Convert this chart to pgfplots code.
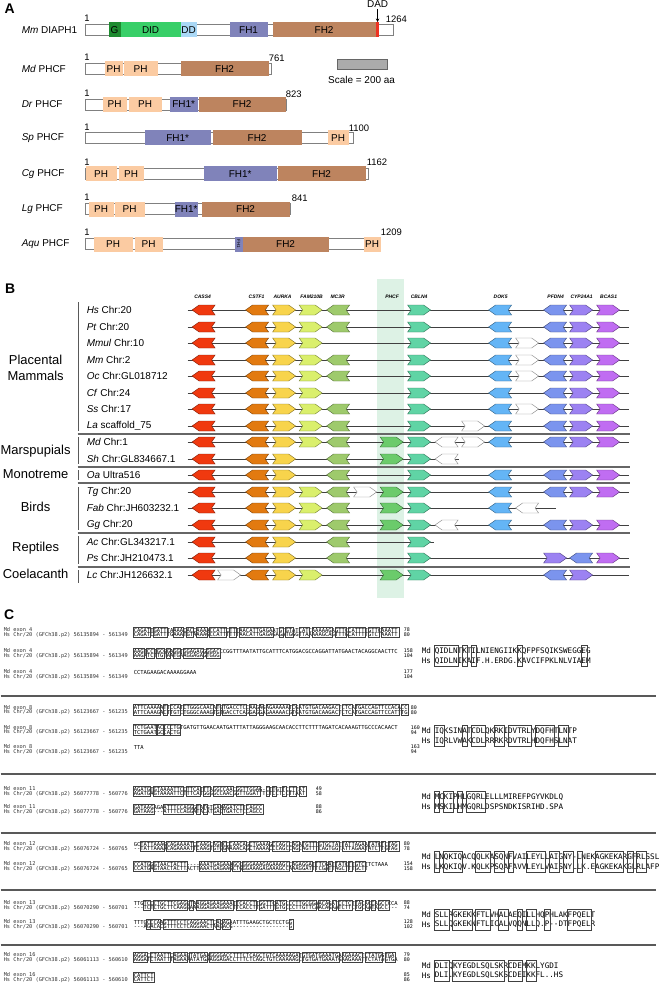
\documentclass[border=0pt]{standalone}
\usepackage{pgfplots}
\pgfplotsset{compat=1.18}
\usepackage{fontspec}
\setmainfont{Liberation Sans}
\newfontfamily\monof{DejaVu Sans Mono}
\usetikzlibrary{arrows.meta}
\definecolor{cG}{HTML}{1E8B30}
\definecolor{cDID}{HTML}{38CF68}
\definecolor{cDD}{HTML}{AAD8F6}
\definecolor{cFH1}{HTML}{8083BA}
\definecolor{cFH2}{HTML}{BD845F}
\definecolor{cPH}{HTML}{FBCBA2}
\definecolor{cDAD}{HTML}{EE3322}
\definecolor{cCASS}{HTML}{F0390F}
\definecolor{cCSTF}{HTML}{E27A10}
\definecolor{cAUR}{HTML}{F8D44C}
\definecolor{cFAM}{HTML}{DAEF6C}
\definecolor{cMC}{HTML}{9ECA6C}
\definecolor{cPHCF}{HTML}{6BCB6B}
\definecolor{cCBLN}{HTML}{60D4A5}
\definecolor{cDOK}{HTML}{64B5F6}
\definecolor{cPFD}{HTML}{7B94EE}
\definecolor{cCYP}{HTML}{9C82F2}
\definecolor{cBCAS}{HTML}{C06DF2}
\definecolor{cHL}{HTML}{DDF2E5}
\newcommand{\gp}{\mbox{-}}
% panel A
\newcommand{\bb}[3]{\pgfmathsetmacro\ya{#3-5.5}\pgfmathsetmacro\yb{#3+5.5}%
\addplot[fill=white, draw=black!50, line width=0.6pt] coordinates {(#1,\ya) (#2,\ya) (#2,\yb) (#1,\yb)} --cycle;}
\newcommand{\dom}[5]{\pgfmathsetmacro\ya{#3-7.5}\pgfmathsetmacro\yb{#3+7.5}%
\addplot[fill=#4, draw=none] coordinates {(#1,\ya) (#2,\ya) (#2,\yb) (#1,\yb)} --cycle;
\path (axis cs:#1,#3) -- (axis cs:#2,#3) node[midway, inner sep=0, font=\fontsize{10}{12}\selectfont] {#5};}
\newcommand{\plab}[3]{\node[anchor=west, inner sep=0, font=\fontsize{10}{12}\selectfont] at (axis cs:21,#1) {\textit{#2} #3};}
\newcommand{\num}[3]{\node[anchor=west, inner sep=0, font=\fontsize{9.5}{11}\selectfont] at (axis cs:#1,#2) {#3};}
% panel B
\newcommand{\gL}[3]{\pgfmathsetmacro\xa{#1}\pgfmathsetmacro\xb{#1+7}\pgfmathsetmacro\xc{#1+23}\pgfmathsetmacro\xd{#1+19.5}\pgfmathsetmacro\ya{#2-5}\pgfmathsetmacro\yb{#2+5}%
\addplot[fill=#3, draw=#3!55!black, line width=0.45pt] coordinates {(\xa,#2) (\xb,\ya) (\xc,\ya) (\xd,#2) (\xc,\yb) (\xb,\yb)} --cycle;}
\newcommand{\gR}[3]{\pgfmathsetmacro\xa{#1}\pgfmathsetmacro\xe{#1+16}\pgfmathsetmacro\xc{#1+23}\pgfmathsetmacro\xn{#1+3.5}\pgfmathsetmacro\ya{#2-5}\pgfmathsetmacro\yb{#2+5}%
\addplot[fill=#3, draw=#3!55!black, line width=0.45pt] coordinates {(\xa,\ya) (\xe,\ya) (\xc,#2) (\xe,\yb) (\xa,\yb) (\xn,#2)} --cycle;}
\newcommand{\chr}[3]{\addplot[draw=black!75, line width=0.9pt] coordinates {(#1,#3) (#2,#3)};}
\newcommand{\Lset}[1]{\gL{191.5}{#1}{cCASS}\gL{245}{#1}{cCSTF}\gR{272}{#1}{cAUR}}
\newcommand{\Rset}[1]{\gL{488}{#1}{cDOK}\gL{543}{#1}{cPFD}\gR{569}{#1}{cCYP}\gR{596}{#1}{cBCAS}}
\newcommand{\rl}[3]{\node[anchor=west, inner sep=0, font=\fontsize{10}{12}\selectfont] at (axis cs:86,#1) {\textit{#2} #3};}
\newcommand{\gh}[2]{\node[inner sep=0, font=\bfseries\itshape\fontsize{5}{6}\selectfont] at (axis cs:#1,297) {#2};}
\newcommand{\grp}[2]{\node[inner sep=0, font=\fontsize{13}{15}\selectfont] at (axis cs:35,#1) {#2};}
\newcommand{\vbar}[2]{\addplot[draw=black!65, line width=1.1pt] coordinates {(78,#1) (78,#2)};}
\newcommand{\hsep}[1]{\addplot[draw=black!60, line width=1.6pt] coordinates {(77,#1) (629,#1)};}
% panel C
\newcommand{\sq}[3]{\node[anchor=west, inner sep=0, font=\monof\fontsize{5.5}{6}\selectfont] at (axis cs:#1,#2) {#3};}
\newcommand{\lb}[2]{\node[anchor=west, inner sep=0, font=\monof\fontsize{5.3}{6}\selectfont, text=black!80] at (axis cs:3,#1) {#2};}
\newcommand{\nm}[3]{\node[anchor=west, inner sep=0, font=\monof\fontsize{5}{6}\selectfont] at (axis cs:#1,#2) {#3};}
\newcommand{\pair}[9]{\lb{#1}{Md exon #3}\lb{#2}{Hs Chr/20 (GFCh38.p2) #4}\sq{133}{#1}{#5}\sq{133}{#2}{#6}\nm{#9}{#1}{#7}\nm{#9}{#2}{#8}}
\newcommand{\prot}[4]{\node[anchor=west, inner sep=0, font=\monof\fontsize{7.64}{9}\selectfont] at (axis cs:421,#1) {Md};
\node[anchor=west, inner sep=0, font=\monof\fontsize{7.64}{9}\selectfont] at (axis cs:421,#2) {Hs};
\node[anchor=west, inner sep=0, font=\monof\fontsize{7.64}{9}\selectfont] at (axis cs:434,#1) {#3};
\node[anchor=west, inner sep=0, font=\monof\fontsize{7.64}{9}\selectfont] at (axis cs:434,#2) {#4};}
\newcommand{\bx}[3]{\pgfmathsetmacro\xa{133+3.31*#1-0.3}\pgfmathsetmacro\xb{133+3.31*#2+0.3}\pgfmathsetmacro\ya{#3-2.9}\pgfmathsetmacro\yb{#3+7.6}%
\addplot[draw=black!75, line width=0.35pt] coordinates {(\xa,\ya) (\xb,\ya) (\xb,\yb) (\xa,\yb)} --cycle;}
\newcommand{\pbx}[3]{\pgfmathsetmacro\xa{434+4.6*#1-0.4}\pgfmathsetmacro\xb{434+4.6*#2+0.4}\pgfmathsetmacro\ya{#3-5.5}\pgfmathsetmacro\yb{#3+15}%
\addplot[draw=black!75, line width=0.4pt] coordinates {(\xa,\ya) (\xb,\ya) (\xb,\yb) (\xa,\yb)} --cycle;}
\newcommand{\csep}[1]{\addplot[draw=black!65, line width=1.2pt] coordinates {(0,#1) (655,#1)};}
\begin{document}
\begin{tikzpicture}
\begin{axis}[scale only axis, width=660bp, height=997bp, xmin=0, xmax=660, ymin=0, ymax=997, y dir=reverse, hide axis, clip=false]
\addplot[draw=none] coordinates {(0,0) (660,997)};
% ===== Panel A =====
\node[inner sep=0, font=\bfseries\fontsize{14}{16}\selectfont] at (axis cs:9,9) {A};
\plab{30}{Mm}{DIAPH1}
\bb{85}{393}{30}
\dom{108}{120}{30}{cG}{G}
\dom{120}{180}{30}{cDID}{DID}
\dom{180}{196}{30}{cDD}{DD}
\dom{229}{267}{30}{cFH1}{FH1}
\dom{272}{375}{30}{cFH2}{FH2}
\dom{375}{378}{30}{cDAD}{}
\num{83.5}{18.5}{1}
\num{385}{19}{1264}
\node[inner sep=0, font=\fontsize{10}{12}\selectfont] at (axis cs:377,4.5) {DAD};
\addplot[-{Stealth[length=3.5pt,width=3.5pt]}, line width=0.9pt] coordinates {(377,9.5) (377,22)};
\plab{69}{Md}{PHCF}
\bb{85}{271}{69}
\dom{104}{122}{69}{cPH}{PH}
\dom{123}{157}{69}{cPH}{PH}
\dom{180}{268}{69}{cFH2}{FH2}
\num{83.5}{57.5}{1}
\num{268}{58}{761}
\addplot[fill=black!33, draw=black!60, line width=0.6pt] coordinates {(337,59) (387,59) (387,69) (337,69)} --cycle;
\node[inner sep=0, font=\fontsize{10}{12}\selectfont] at (axis cs:361,80) {Scale = 200 aa};
\plab{104.5}{Dr}{PHCF}
\bb{85}{286}{104.5}
\dom{102}{126}{104.5}{cPH}{PH}
\dom{128}{161}{104.5}{cPH}{PH}
\dom{169}{197}{104.5}{cFH1}{FH1*}
\dom{198}{285}{104.5}{cFH2}{FH2}
\num{83.5}{93}{1}
\num{285}{94}{823}
\plab{138}{Sp}{PHCF}
\bb{85}{353}{138}
\dom{144}{210}{138}{cFH1}{FH1*}
\dom{212}{301}{138}{cFH2}{FH2}
\dom{327}{348}{138}{cPH}{PH}
\num{83.5}{127}{1}
\num{348}{128}{1100}
\plab{174}{Cg}{PHCF}
\bb{85}{368}{174}
\dom{85}{116}{174}{cPH}{PH}
\dom{118}{143}{174}{cPH}{PH}
\dom{203}{276}{174}{cFH1}{FH1*}
\dom{277}{365}{174}{cFH2}{FH2}
\num{83.5}{162.5}{1}
\num{366}{162.5}{1162}
\plab{209}{Lg}{PHCF}
\bb{85}{290}{209}
\dom{88}{113}{209}{cPH}{PH}
\dom{114}{144}{209}{cPH}{PH}
\dom{174}{197}{209}{cFH1}{FH1*}
\dom{201}{289}{209}{cFH2}{FH2}
\num{83.5}{197.5}{1}
\num{291}{198}{841}
\plab{244}{Aqu}{PHCF}
\bb{85}{380}{244}
\dom{93}{132}{244}{cPH}{PH}
\dom{134}{162}{244}{cPH}{PH}
\dom{234}{242}{244}{cFH1}{}
\node[inner sep=0, rotate=-90, font=\fontsize{4.5}{5}\selectfont] at (axis cs:238,244) {FH1};
\dom{242}{328}{244}{cFH2}{FH2}
\dom{363}{380}{244}{cPH}{PH}
\num{83.5}{232.5}{1}
\num{380}{232.5}{1209}
% ===== Panel B =====
\node[inner sep=0, font=\bfseries\fontsize{14}{16}\selectfont] at (axis cs:9.5,288.5) {B};
\addplot[fill=cHL, draw=none] coordinates {(376,279) (403,279) (403,598) (376,598)} --cycle;
\gh{202}{CASS4}\gh{256}{CSTF1}\gh{282}{AURKA}\gh{311}{FAM210B}\gh{337}{MC3R}
\gh{391.5}{PHCF}\gh{418.5}{CBLN4}\gh{500}{DOK5}\gh{555}{PFDN4}\gh{581}{CYP24A1}\gh{608}{BCAS1}
\grp{360}{Placental}\grp{376}{Mammals}\grp{451}{Marspupials}\grp{474}{Monotreme}
\grp{507}{Birds}\grp{548}{Reptiles}\grp{574}{Coelacanth}
\vbar{302}{431}\vbar{437}{464}\vbar{470}{480}\vbar{487}{530}\vbar{536}{564}\vbar{570}{583}
\hsep{434}\hsep{467}\hsep{483}\hsep{533}\hsep{567}
\rl{310}{Hs}{Chr:20}\rl{327}{Pt}{Chr:20}\rl{343}{Mmul}{Chr:10}\rl{360}{Mm}{Chr:2}
\rl{376}{Oc}{Chr:GL018712}\rl{393}{Cf}{Chr:24}\rl{409}{Ss}{Chr:17}\rl{426}{La}{scaffold\_75}
\rl{442}{Md}{Chr:1}\rl{459}{Sh}{Chr:GL834667.1}\rl{475}{Oa}{Ultra516}\rl{492}{Tg}{Chr:20}
\rl{508}{Fab}{Chr:JH603232.1}\rl{525}{Gg}{Chr:20}\rl{542}{Ac}{Chr:GL343217.1}
\rl{558}{Ps}{Chr:JH210473.1}\rl{575}{Lc}{Chr:JH126632.1}
% Hs
\chr{187}{628}{310}\Lset{310}\gR{298.5}{310}{cFAM}\gL{326}{310}{cMC}\gR{407}{310}{cCBLN}\Rset{310}
% Pt
\chr{187}{628}{327}\Lset{327}\gR{298.5}{327}{cFAM}\gL{326}{327}{cMC}\gR{407}{327}{cCBLN}\Rset{327}
% Mmul
\chr{187}{628}{343}\Lset{343}\gR{298.5}{343}{cFAM}\gR{407}{343}{cCBLN}\Rset{343}\gR{515}{343}{white}
% Mm
\chr{187}{628}{360}\Lset{360}\gR{298.5}{360}{cFAM}\gL{326}{360}{cMC}\gR{407}{360}{cCBLN}\Rset{360}\gR{515}{360}{white}
% Oc
\chr{187}{628}{376}\Lset{376}\gR{298.5}{376}{cFAM}\gL{326}{376}{cMC}\gR{407}{376}{cCBLN}\Rset{376}\gR{515}{376}{white}
% Cf
\chr{187}{628}{393}\Lset{393}\gR{298.5}{393}{cFAM}\gR{407}{393}{cCBLN}\Rset{393}
% Ss
\chr{187}{628}{409}\Lset{409}\gR{298.5}{409}{cFAM}\gL{326}{409}{cMC}\gR{407}{409}{cCBLN}\Rset{409}\gR{515}{409}{white}
% La
\chr{187}{628}{426}\Lset{426}\gR{298.5}{426}{cFAM}\gL{326}{426}{cMC}\gR{407}{426}{cCBLN}\gR{461}{426}{white}\Rset{426}
% Md
\chr{187}{628}{442}\Lset{442}\gR{298.5}{442}{cFAM}\gL{326}{442}{cMC}\gR{379.5}{442}{cPHCF}\gR{407}{442}{cCBLN}\gL{434.5}{442}{white}\gR{461}{442}{white}\Rset{442}
% Sh
\chr{187}{458}{459}\Lset{459}\gL{326}{459}{cMC}\gR{379.5}{459}{cPHCF}\gR{407}{459}{cCBLN}\gL{434.5}{459}{white}
% Oa
\chr{187}{628}{475}\Lset{475}\gL{326}{475}{cMC}\gR{407}{475}{cCBLN}\Rset{475}
% Tg
\chr{187}{628}{492}\Lset{492}\gR{298.5}{492}{cFAM}\gL{326}{492}{cMC}\gR{353}{492}{white}\gR{379.5}{492}{cPHCF}\gR{407}{492}{cCBLN}\Rset{492}
% Fab
\chr{187}{555}{508}\Lset{508}\gR{298.5}{508}{cFAM}\gL{326}{508}{cMC}\gR{379.5}{508}{cPHCF}\gR{407}{508}{cCBLN}\gL{488}{508}{cDOK}\gL{515}{508}{white}
% Gg
\chr{187}{628}{525}\Lset{525}\gR{298.5}{525}{cFAM}\gL{326}{525}{cMC}\gR{379.5}{525}{cPHCF}\gR{407}{525}{cCBLN}\gL{434.5}{525}{white}\Rset{525}
% Ac
\chr{187}{433}{542}\Lset{542}\gL{326}{542}{cMC}\gR{407}{542}{cCBLN}
% Ps
\chr{187}{628}{558}\Lset{558}\gL{326}{558}{cMC}\gR{407}{558}{cCBLN}\gR{543}{558}{cCYP}\gL{569}{558}{cPFD}\gR{596}{558}{cBCAS}
% Lc
\chr{187}{628}{575}\gL{191.5}{575}{cCASS}\gR{217}{575}{white}\gL{245}{575}{cCSTF}\gR{272}{575}{cAUR}\gR{298.5}{575}{cFAM}\gR{379.5}{575}{cPHCF}\gR{407}{575}{cCBLN}\gL{543}{575}{cPFD}\gR{569}{575}{cCYP}
% ===== Panel C =====
\node[inner sep=0, font=\bfseries\fontsize{14}{16}\selectfont] at (axis cs:8.5,614.5) {C};
\csep{696}\csep{774}\csep{833}\csep{890}\csep{945}
% exon 4
\pair{630}{634.7}{4}{56135894 - 561349}{CAGATTGATTTAAAACACCAAAACCATTCTTTAACATTGAGAATGTGTATCATCAAAAAGAGTTCCATTTTGTTCAAATT}{CAGATCGATTTGAAATGTAAAAGCCATTTTTTAACATTGAGAGAGATGGGTTAAAAAGCAGTTTGCATTTTGTCTAAATT}{78}{80}{403}
\pair{651}{655.7}{4}{56135894 - 561349}{AAGTCCTGCGGAGGTGGAGAGGGGACCCGGTTTAATATTGCATTTCATGGACGCCAGGATTATGAACTACAGGCAACTTC}{AAGATCTTGTAATGAAGGAGAGTGGG}{158}{104}{403}
\pair{672}{676.7}{4}{56135894 - 561349}{CCTAGAAGACAAAAGGAAA}{}{177}{104}{403}
\bx{0}{5}{630}\bx{6}{10}{630}\bx{12}{15}{630}\bx{16}{18}{630}\bx{19}{22}{630}\bx{23}{28}{630}\bx{29}{31}{630}\bx{32}{42}{630}
\bx{44}{45}{630}\bx{46}{48}{630}\bx{50}{53}{630}\bx{54}{60}{630}\bx{61}{64}{630}\bx{65}{70}{630}\bx{71}{74}{630}\bx{75}{80}{630}
\bx{0}{3}{651}\bx{4}{6}{651}\bx{7}{9}{651}\bx{10}{11}{651}\bx{12}{14}{651}\bx{15}{21}{651}\bx{22}{26}{651}
\prot{651}{661}{QIDLNTKTILNIENGIIKKQFPFSQIKSWEGGEG}{QIDLNIKAIF.H.ERDG.KAVCIFPKLNLVIAEM}
\pbx{0}{5}{651}\pbx{6}{7}{651}\pbx{8}{9}{651}\pbx{18}{19}{651}\pbx{32}{33}{651}
% exon 8
\pair{707.5}{712.2}{8}{56123667 - 561235}{ATTCAAAAATTCCATCTGGGCAACATGTGACCTCCAAGAGAGAAAAATCGATGTGACAAGACTCTCATGACCAGTTCCACACC}{ATTCAAAGACTTGTCTGGGCAAAGTGTGACCTCAGGAGGAGAAAAACGTGATGTGACAAGACTCTCATGACCAGTTCCATTTG}{80}{80}{410}
\pair{727.5}{732.2}{8}{56123667 - 561235}{TCTGAATACCCCTGTGATGTTGAACAATGATTTATTAGGGAAGCAACACCTTCTTTTAGATCACAAAGTTGCCCACAACT}{TCTGAATGCCACTG}{160}{94}{410}
\pair{747}{751.7}{8}{56123667 - 561235}{TTA}{}{163}{94}{410}
\bx{0}{8}{707.5}\bx{9}{10}{707.5}\bx{11}{14}{707.5}\bx{15}{24}{707.5}\bx{25}{26}{707.5}\bx{27}{34}{707.5}\bx{35}{37}{707.5}
\bx{38}{39}{707.5}\bx{40}{47}{707.5}\bx{48}{49}{707.5}\bx{50}{62}{707.5}\bx{63}{66}{707.5}\bx{67}{80}{707.5}\bx{81}{83}{707.5}
\bx{0}{7}{727.5}\bx{7}{9}{727.5}\bx{9}{11}{727.5}\bx{11}{14}{727.5}
\prot{731}{741}{IQKSINATCDLQKRKIDVTRLYDQFHTLNTP}{IQRLVWAKCDLRRRKRDVTRLHDQFHSLNAT}
\pbx{0}{2}{731}\pbx{6}{7}{731}\pbx{8}{11}{731}\pbx{13}{15}{731}\pbx{16}{21}{731}\pbx{22}{26}{731}\pbx{27}{29}{731}
% exon 11
\pair{789}{793.7}{11}{56077778 - 560776}{AGATGTGTAAAATTCCTTCATTTAGGCCAACGGTTGGAG\gp CTTGTTCCTTAT}{AGATGAGTAAAATTCTTTCATGGGGCCAACGGTTGGATTTCTCCTCCTTAAT}{49}{58}{315}
\pair{807}{811.7}{11}{56077778 - 560776}{GATAAGAGAATTTCCAGGGTATGTGAAAGATCTTCAGCC}{GATAAG\gp\gp\gp ATTTCCAGGATACATGACTGATCTCCAGCC}{88}{86}{315}
\bx{0}{5}{789}\bx{6}{15}{789}\bx{16}{20}{789}\bx{21}{23}{789}\bx{24}{30}{789}\bx{31}{38}{789}\bx{40}{41}{789}\bx{42}{43}{789}\bx{45}{46}{789}\bx{47}{49}{789}\bx{50}{52}{789}
\bx{0}{6}{807}\bx{9}{18}{807}\bx{19}{20}{807}\bx{21}{22}{807}\bx{24}{26}{807}\bx{27}{33}{807}\bx{34}{39}{807}
\prot{797}{807}{MCKIPHLGQRLELLLMIREFPGYVKDLQ}{MSKILHMGQRLDSPSNDKISRIHD.SPA}
\pbx{0}{1}{797}\pbx{2}{4}{797}\pbx{5}{6}{797}\pbx{7}{11}{797}
% exon 12
\pair{844}{848.7}{12}{56076724 - 560765}{GCTATTAAAGCAGAAAATCCAAGCAGTCCCAACAGCTGAAAGCCAGCCAGATGTTTGTGCTATTATTAGAATATCTCTAG}{\gp\gp TATTAAAACAGAAAATTCAAGTGTGGAAAACAGCTAAAACCCAGCCAGCAGTTTCAGTGGTATTAGAATATCTTGTAG}{80}{78}{403}
\pair{864}{868.7}{12}{56076724 - 560765}{CCATGGGTAACTACTT\gp\gp\gp\gp AAATGAGAAAGCCGGGAAAGAGAAAGCCAGAGGATTTCGATTATCTTGTCTTCTAAA}{CCATGAGTAACTACTTACTTAAATGAGAAGCTGGGAAAGAGAAAGCCAAAGGATTTCGATTAGCTTTGCTT}{154}{158}{403}
\bx{2}{9}{844}\bx{10}{18}{844}\bx{19}{23}{844}\bx{24}{26}{844}\bx{27}{28}{844}\bx{29}{34}{844}\bx{35}{41}{844}\bx{42}{47}{844}
\bx{48}{50}{844}\bx{51}{55}{844}\bx{56}{62}{844}\bx{63}{70}{844}\bx{71}{74}{844}\bx{75}{76}{844}\bx{77}{80}{844}
\bx{0}{5}{864}\bx{6}{16}{864}\bx{20}{29}{864}\bx{30}{32}{864}\bx{33}{47}{864}\bx{48}{54}{864}\bx{55}{58}{864}\bx{59}{60}{864}\bx{61}{64}{864}\bx{65}{66}{864}\bx{67}{70}{864}
\prot{857}{867}{LNQKIQACQQLKASQNFVAILEYLLAIGNY\gp LNEKAGKEKARGFRLSSL}{LKQKIQV.KQLKPSQAFAVVLEYLVAISNYLLK.EAGKEKAKGLRLAFP}
\pbx{0}{1}{857}\pbx{2}{6}{857}\pbx{9}{12}{857}\pbx{13}{15}{857}\pbx{16}{17}{857}\pbx{20}{24}{857}\pbx{25}{27}{857}\pbx{28}{30}{857}\pbx{31}{32}{857}\pbx{35}{41}{857}\pbx{42}{43}{857}\pbx{44}{46}{857}
% exon 13
\pair{903}{907.7}{13}{56070290 - 560701}{TTGTCCCTGCTTCGAGGTAAGGAGAAGAAATTCACCTTGGTTCATGCCCTTGCGGAACAGATCCTCTTACACCAGCCCCA}{\gp\gp\gp TCTCTGCTTCAAGGAAAGGAGAAGAACTTCACCTTGATTTGTGCCCTTGTTCAACAGAATCTTCTGCAATAGCC\gp\gp\gp}{88}{74}{403}
\pair{922}{926.7}{13}{56070290 - 560701}{TTTGCCCAAGTTTCCTCAGGAACTCACAGAATTTGAAGCTGCTCCTGG}{\gp\gp\gp AGACACGTTTCCTCAGGAACTAAGACG\gp\gp\gp\gp\gp\gp\gp\gp\gp\gp\gp\gp\gp\gp\gp\gp\gp G}{128}{102}{403}
\bx{3}{5}{903}\bx{6}{16}{903}\bx{17}{18}{903}\bx{19}{30}{903}\bx{31}{37}{903}\bx{38}{42}{903}\bx{43}{46}{903}\bx{47}{55}{903}
\bx{56}{59}{903}\bx{60}{61}{903}\bx{62}{66}{903}\bx{67}{69}{903}\bx{70}{71}{903}\bx{72}{73}{903}\bx{74}{77}{903}
\bx{4}{5}{922}\bx{5}{8}{922}\bx{9}{24}{922}\bx{25}{26}{922}\bx{27}{29}{922}\bx{47}{48}{922}
\prot{915}{924.5}{SLLRGKEKKFTLVHALAEQILLHQPHLAKFPQELT}{SLLQGKEKNFTLICALVQQNLLQ.P\gp\gp DTFPQELR}
\pbx{0}{3}{915}\pbx{4}{8}{915}\pbx{9}{12}{915}\pbx{14}{16}{915}\pbx{18}{19}{915}\pbx{20}{22}{915}\pbx{24}{25}{915}\pbx{29}{34}{915}
% exon 16
\pair{955}{959.7}{16}{56061113 - 560610}{AGGACCTAATTCAGAAGTATGAAGGGGACCTTTCTCAGCTGTCAAAAAGATGTGATGAAATGAAGAAACTCTATGGTGA}{AGGATCTAATTTAGAAAATATGAAGGAGACCTTTCTCAGCTGTCAAAAAGCTGTGATGAAATGAAGAAATTCTATAGTGA}{79}{80}{403}
\pair{975}{979.7}{16}{56061113 - 560610}{CATTCT}{CATTCT}{85}{86}{403}
\bx{0}{4}{955}\bx{5}{11}{955}\bx{12}{16}{955}\bx{17}{22}{955}\bx{23}{50}{955}\bx{51}{62}{955}\bx{63}{69}{955}\bx{70}{75}{955}\bx{76}{79}{955}
\bx{0}{6}{975}
\prot{966}{975.5}{DLIQKYEGDLSQLSKRCDEMKKLYGDI}{DLI.KYEGDLSQLSKSCDEIKKFL..HS}
\pbx{0}{3}{966}\pbx{4}{15}{966}\pbx{16}{19}{966}\pbx{20}{22}{966}
\end{axis}
\end{tikzpicture}
\end{document}
